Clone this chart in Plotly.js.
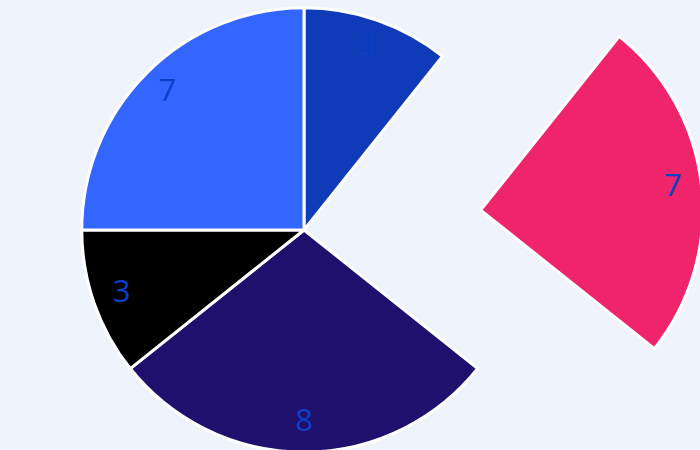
<!DOCTYPE html>
<html>
<head>
<meta charset="utf-8">
<script src="https://cdn.plot.ly/plotly-3.0.1.min.js"></script>
<style>
html, body { margin: 0; padding: 0; width: 700px; height: 450px; overflow: hidden; background: #eff3fb; }
.layer { position: absolute; left: -96px; top: -170px; }
</style>
</head>
<body>
<div id="chart" class="layer"></div>
<div id="labels" class="layer"></div>
<script>
const labels = ["A", "B", "C", "D", "E"];
const values = [3, 7, 8, 3, 7];
const pulls = [0, 0.8, 0, 0, 0];
const colors = ["#0f3bb8", "#ef246a", "#1e106c", "#000000", "#3366ff"];

const SIZE = 800;
const MAXPULL = Math.max(...pulls);
const LABEL_R = 0.87;
const FONT = { size: 31, color: "#0a3fc8", family: "Open Sans, sans-serif" };

// pie slices
Plotly.newPlot("chart", [{
  type: "pie",
  labels: labels,
  values: values,
  pull: pulls,
  sort: false,
  direction: "clockwise",
  rotation: 0,
  textinfo: "none",
  marker: { colors: colors, line: { color: "#ffffff", width: 3 } },
  hoverinfo: "none"
}], {
  width: SIZE, height: SIZE,
  margin: { l: 0, r: 0, t: 0, b: 0 },
  showlegend: false,
  paper_bgcolor: "#eff3fb"
}, { displayModeBar: false, staticPlot: true });

// value labels placed on a polar scale aligned with the pie
const total = values.reduce((a, b) => a + b, 0);
let cum = 0;
const thetas = values.map(v => { const t = (cum + v / 2) / total * 360; cum += v; return t; });
const radii = pulls.map(p => LABEL_R + p);

Plotly.newPlot("labels", [{
  type: "scatterpolar",
  mode: "text",
  theta: thetas,
  r: radii,
  text: values.map(String),
  textposition: "middle center",
  textfont: FONT,
  cliponaxis: false,
  hoverinfo: "none"
}], {
  width: SIZE, height: SIZE,
  margin: { l: 0, r: 0, t: 0, b: 0 },
  showlegend: false,
  paper_bgcolor: "rgba(0,0,0,0)",
  polar: {
    domain: { x: [0, 1], y: [0, 1] },
    bgcolor: "rgba(0,0,0,0)",
    radialaxis: { visible: false, range: [0, 1 + MAXPULL] },
    angularaxis: { visible: false, direction: "clockwise", rotation: 90, showgrid: false, showline: false, showticklabels: false, ticks: "" }
  }
}, { displayModeBar: false, staticPlot: true });
</script>
</body>
</html>
